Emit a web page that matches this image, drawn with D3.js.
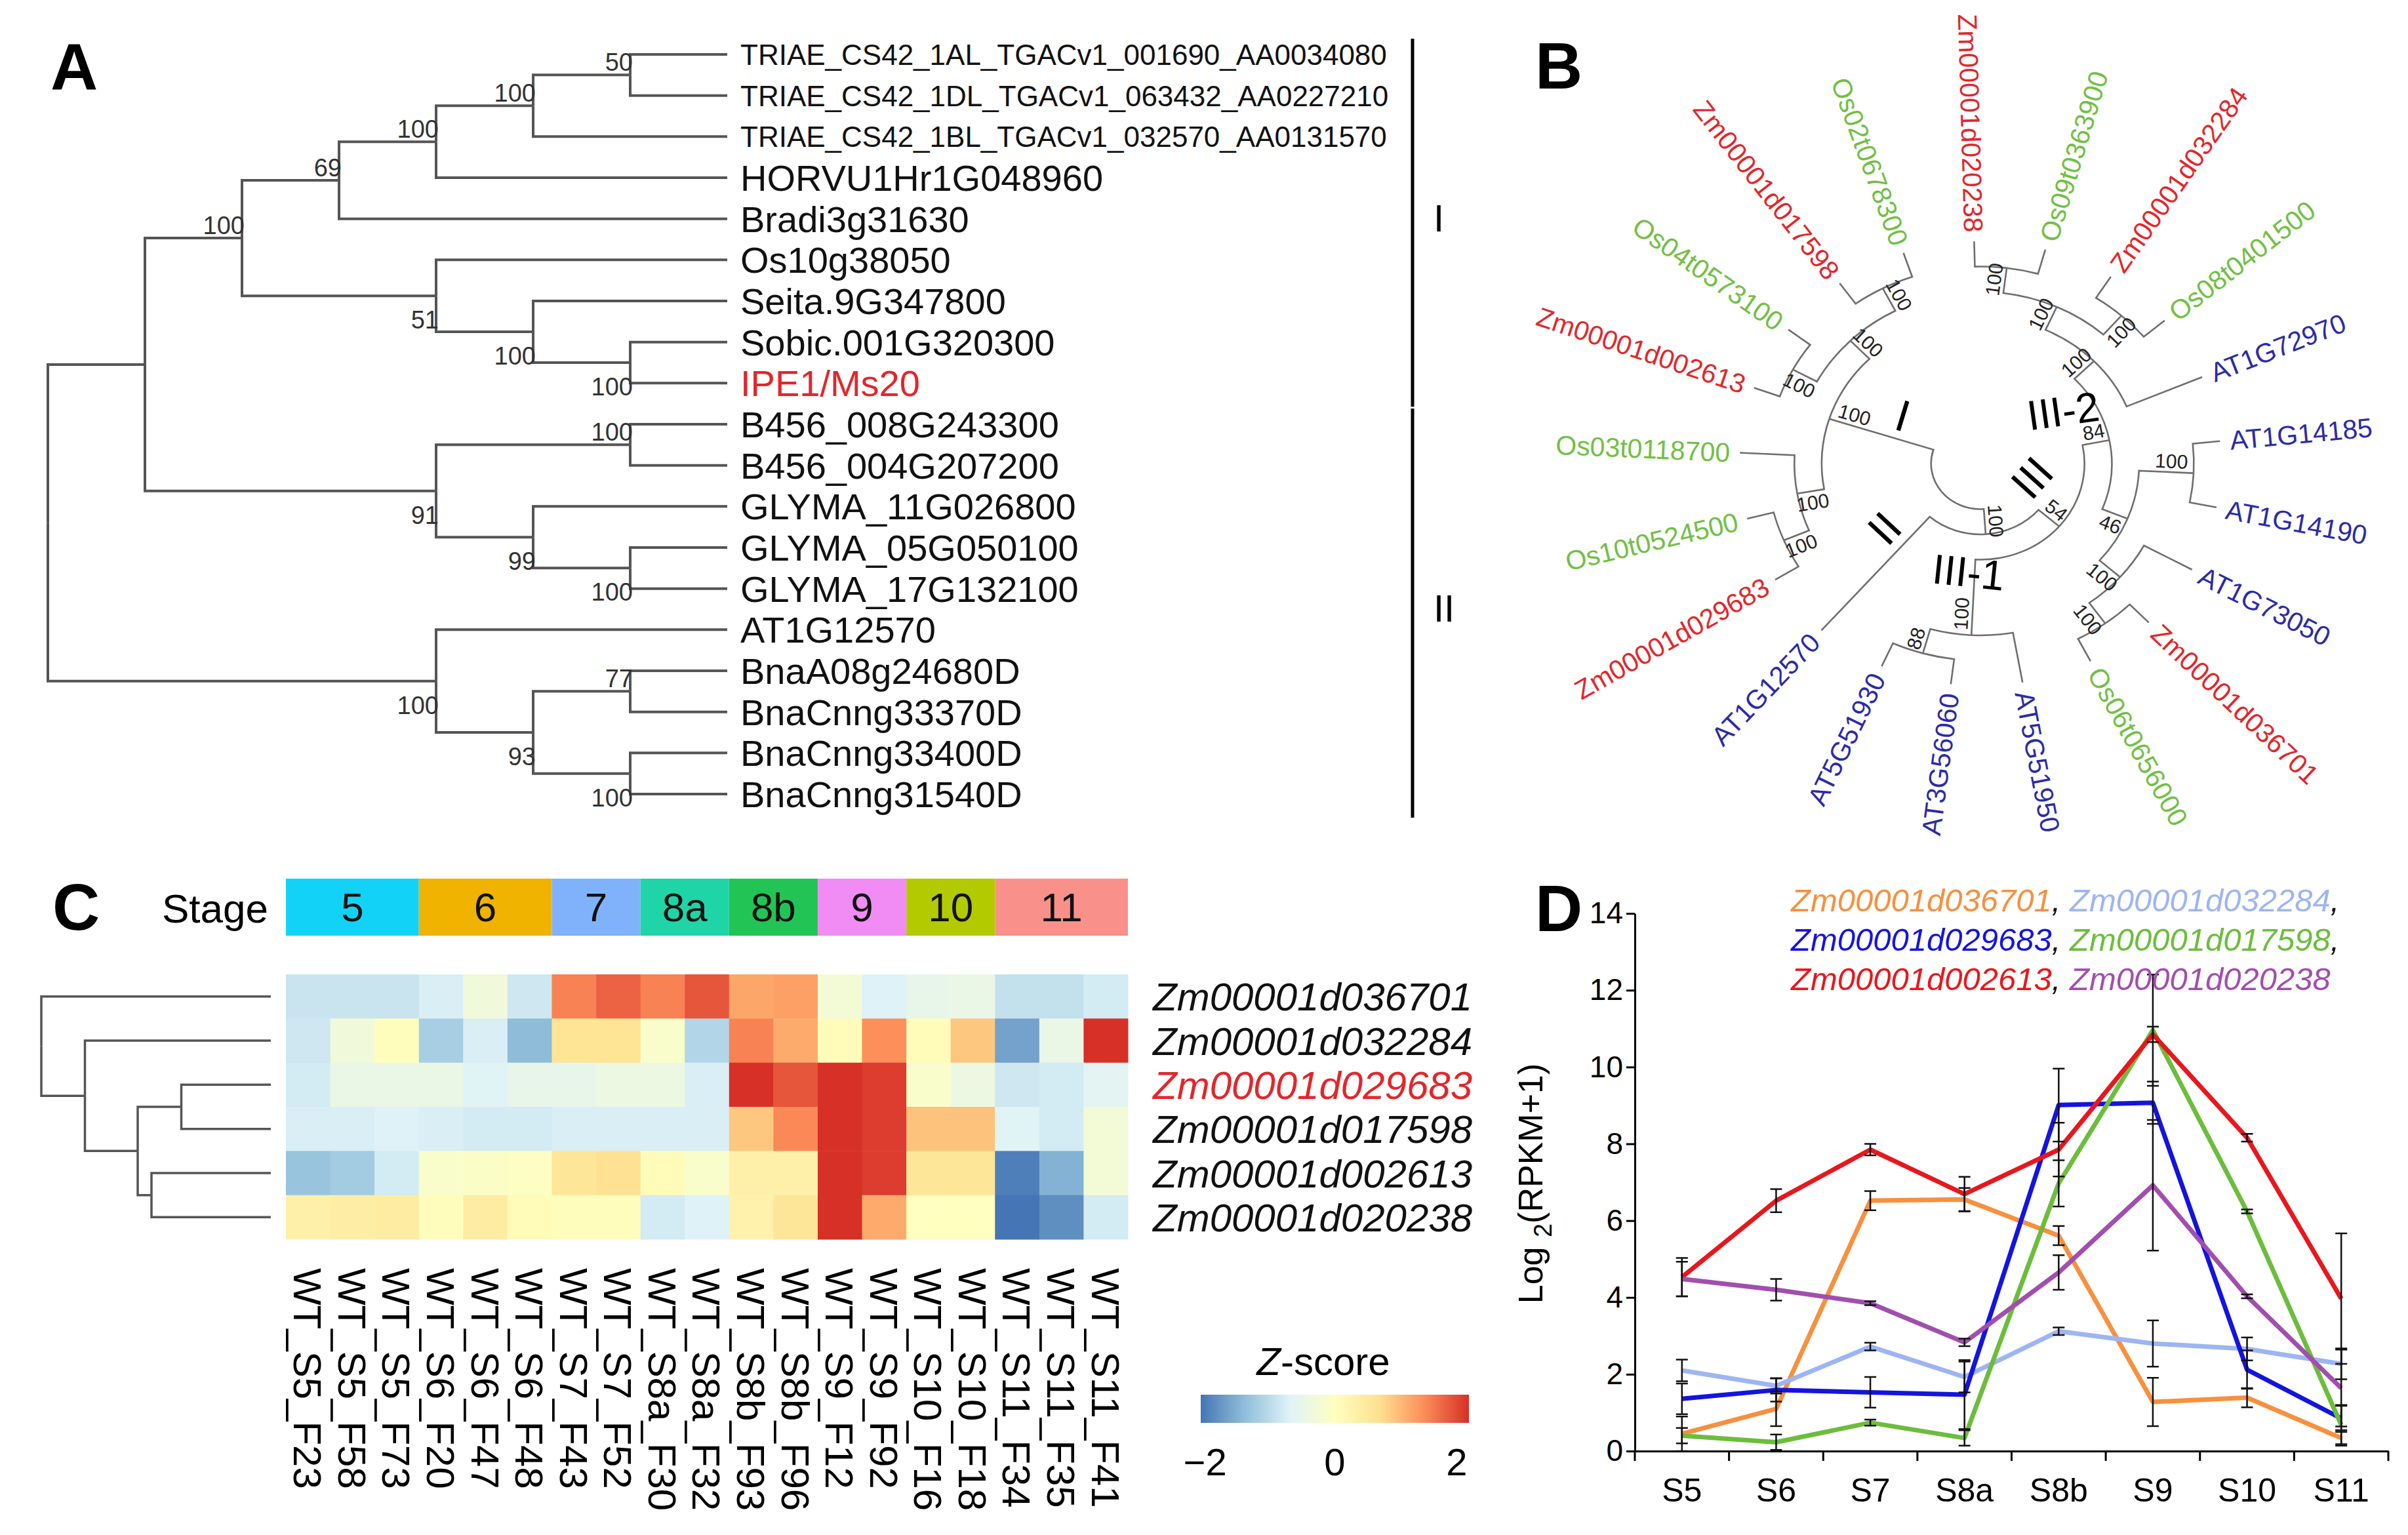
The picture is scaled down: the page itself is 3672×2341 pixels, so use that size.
<!DOCTYPE html>
<html>
<head>
<meta charset="utf-8">
<script src="https://cdn.jsdelivr.net/npm/d3@7"></script>
<style>
body { margin: 0; background: #fff; }
svg { display: block; }
text { font-family: "Liberation Sans", Arial, sans-serif; }
</style>
</head>
<body>
<svg id="fig" width="3672" height="2341"></svg>
<script>
// ---------- data ----------
// A: cladogram, bootstrap values as internal labels
const treeA = "(((((((TRIAE_CS42_1AL_TGACv1_001690_AA0034080,TRIAE_CS42_1DL_TGACv1_063432_AA0227210)50,TRIAE_CS42_1BL_TGACv1_032570_AA0131570)100,HORVU1Hr1G048960)100,Bradi3g31630)69,(Os10g38050,(Seita.9G347800,(Sobic.001G320300,IPE1/Ms20)100)100)51)100,((B456_008G243300,B456_004G207200)100,(GLYMA_11G026800,(GLYMA_05G050100,GLYMA_17G132100)100)99)91),(AT1G12570,((BnaA08g24680D,BnaCnng33370D)77,(BnaCnng33400D,BnaCnng31540D)100)93)100);";
const highlightA = ["IPE1/Ms20"];
const cladeNamesA = ["I", "II"];
const cladeFirstA = ["TRIAE_CS42_1AL_TGACv1_001690_AA0034080", "B456_008G243300"];
const cladeLastA = ["IPE1/Ms20", "BnaCnng31540D"];

// B: circular tree
const treeB = "(((((((Zm00001d020238,Os09t0363900)100,(Zm00001d032284,Os08t0401500)100)100,AT1G72970)100,((AT1G14185,AT1G14190)100,(AT1G73050,(Zm00001d036701,Os06t0656000)100)100)46)84,(AT5G51950,(AT3G56060,AT5G51930)88)100)54,AT1G12570)100,(((Zm00001d029683,Os10t0524500)100,Os03t0118700)100,((Zm00001d002613,Os04t0573100)100,(Zm00001d017598,Os02t0678300)100)100)100);";
const speciesPrefix = ["Zm", "Os", "AT"];
const speciesColor = ["#e3262b", "#72bf45", "#2b2ba8"];
const cladeLabelsB = ["I", "II", "III", "III-1", "III-2"];

// C: heatmap
const stages = ["5", "6", "7", "8a", "8b", "9", "10", "11"];
const stageColors = ["#12d3f7", "#efb300", "#80b2fc", "#1fd5a7", "#22c555", "#f08cf4", "#b4ca00", "#f9918a"];
const samples = ["WT_S5_F23", "WT_S5_F58", "WT_S5_F73", "WT_S6_F20", "WT_S6_F47", "WT_S6_F48", "WT_S7_F43", "WT_S7_F52", "WT_S8a_F30", "WT_S8a_F32", "WT_S8b_F93", "WT_S8b_F96", "WT_S9_F12", "WT_S9_F92", "WT_S10_F16", "WT_S10_F18", "WT_S11_F34", "WT_S11_F35", "WT_S11_F41"];
const genes = ["Zm00001d036701", "Zm00001d032284", "Zm00001d029683", "Zm00001d017598", "Zm00001d002613", "Zm00001d020238"];
const z036701 = [-0.95, -0.95, -0.95, -0.8, -0.35, -0.9, 1.55, 1.8, 1.55, 1.9, 1.25, 1.3, -0.3, -0.75, -0.55, -0.5, -1.0, -1.0, -0.85];
const z032284 = [-0.9, -0.35, 0.05, -1.25, -0.8, -1.5, 0.65, 0.65, -0.15, -1.15, 1.55, 1.2, 0.1, 1.45, 0.1, 0.95, -1.75, -0.5, 2.2];
const z029683 = [-0.85, -0.5, -0.5, -0.5, -0.7, -0.55, -0.55, -0.45, -0.45, -0.8, 2.2, 1.9, 2.2, 2.1, -0.15, -0.45, -0.9, -0.85, -0.65];
const z017598 = [-0.8, -0.8, -0.75, -0.8, -0.85, -0.85, -0.8, -0.8, -0.8, -0.8, 0.95, 1.5, 2.2, 2.1, 1.0, 1.0, -0.7, -0.85, -0.3];
const z002613 = [-1.4, -1.3, -0.85, -0.15, -0.1, -0.05, 0.6, 0.7, 0.1, -0.15, 0.35, 0.35, 2.2, 2.1, 0.6, 0.6, -2.1, -1.6, -0.3];
const z020238 = [0.35, 0.4, 0.45, 0.05, 0.45, 0.1, 0.05, 0.05, -0.85, -0.75, 0.3, 0.6, 2.2, 1.2, 0.0, 0.0, -2.2, -1.95, -0.85];
const zRows = [z036701, z032284, z029683, z017598, z002613, z020238];
// row dendrogram, internal labels = merge height (relative)
const rowTree = "(Zm00001d036701,(Zm00001d032284,((Zm00001d029683,Zm00001d017598)0.39,(Zm00001d002613,Zm00001d020238)0.52)0.58)0.81)1.00";
const heatPalette = ["#4575B4", "#91BFDB", "#E0F3F8", "#FFFFBF", "#FEE090", "#FC8D59", "#D73027"];
const legendTicks = [-2, 0, 2];

// D: expression lines
const stagesD = ["S5", "S6", "S7", "S8a", "S8b", "S9", "S10", "S11"];
const seriesD = ["Zm00001d036701", "Zm00001d032284", "Zm00001d029683", "Zm00001d017598", "Zm00001d002613", "Zm00001d020238"];
const colorsD = ["#f7903f", "#9db5f2", "#1414e0", "#6cbd3c", "#e8171d", "#a14fae"];
const expr036701 = [0.45, 1.1, 6.52, 6.55, 5.61, 1.28, 1.39, 0.34];
const expr032284 = [2.1, 1.7, 2.72, 1.93, 3.12, 2.8, 2.66, 2.27];
const expr029683 = [1.36, 1.59, 1.53, 1.47, 9.01, 9.07, 2.12, 0.85];
const expr017598 = [0.4, 0.23, 0.74, 0.34, 6.97, 10.96, 6.24, 0.68];
const expr002613 = [4.53, 6.52, 7.85, 6.69, 7.85, 10.85, 8.16, 3.97];
const expr020238 = [4.48, 4.2, 3.85, 2.83, 4.65, 6.92, 4.03, 1.64];
const sd036701 = [0.45, 0.45, 0.25, 0.3, 0.25, 0.63, 0.25, 0.2];
const sd032284 = [0.28, 0.2, 0.1, 0.4, 0.1, 0.6, 0.3, 0.4];
const sd029683 = [0.4, 0.3, 0.4, 0.9, 0.95, 0.55, 0.5, 0.35];
const sd017598 = [0.2, 0.2, 0.08, 0.2, 0.6, 1.45, 0.05, 0.5];
const sd002613 = [0.5, 0.3, 0.15, 0.45, 0.7, 0.2, 0.1, 1.7];
const sd020238 = [0.45, 0.28, 0.05, 0.1, 0.45, 1.7, 0.05, 1.0];
const exprD = [expr036701, expr032284, expr029683, expr017598, expr002613, expr020238];
const sdD = [sd036701, sd032284, sd029683, sd017598, sd002613, sd020238];
const yTicksD = [0, 2, 4, 6, 8, 10, 12, 14];

// ---------- helpers ----------
function parseNewick(s) {
    let i = 0;
    function node() {
        const n = {};
        if (s[i] === "(") {
            i++;
            n.children = [];
            n.children.push(node());
            while (s[i] === ",") { i++; n.children.push(node()); }
            i++; // ')'
        }
        let lab = "";
        while (i < s.length && !",();".includes(s[i])) lab += s[i++];
        if (n.children) n.support = lab; else n.name = lab;
        return n;
    }
    return node();
}

const svg = d3.select("#fig");
svg.append("rect").attr("width", 3672).attr("height", 2341).attr("fill", "#fff");

// panel letters
const letterPos = [[77, 137], [2341, 135], [80, 1418], [2341, 1420]];
svg.selectAll("text.letter").data(["A", "B", "C", "D"]).join("text")
    .attr("x", (d, i) => letterPos[i][0]).attr("y", (d, i) => letterPos[i][1])
    .attr("font-size", 100).attr("font-weight", "bold").text(d => d);

// ---------- A ----------
const gA = svg.append("g");
const rootA = d3.hierarchy(parseNewick(treeA));
const leavesA = rootA.leaves();
const yA = d3.scaleLinear().domain([0, leavesA.length - 1]).range([83, 1211]);
const xA = d3.scaleLinear().domain([rootA.height, 0]).range([73, 1109]);
leavesA.forEach((d, i) => d.y = yA(i));
rootA.eachAfter(d => {
    if (d.children) d.y = d3.mean(d.children, c => c.y);
    d.x = xA(d.height);
});

gA.selectAll("path").data(rootA.links()).join("path")
    .attr("d", l => `M${l.source.x},${l.source.y}V${l.target.y}H${l.target.x}`)
    .attr("fill", "none").attr("stroke", "#555").attr("stroke-width", 4);

gA.selectAll("text.leaf").data(leavesA).join("text")
    .attr("class", "leaf")
    .attr("x", 1129).attr("y", d => d.y).attr("dy", "0.36em")
    .attr("font-size", d => d.data.name.startsWith("TRIAE") ? 44 : 56)
    .attr("fill", d => highlightA.includes(d.data.name) ? "#e3262b" : "#111")
    .text(d => d.data.name);

gA.selectAll("text.bs").data(rootA.descendants().filter(d => d.parent && d.data.support)).join("text")
    .attr("class", "bs")
    .attr("x", d => d.x + 4)
    .attr("y", d => d.parent.children.indexOf(d) === 0 ? d.y - 6 : d.y + 50)
    .attr("text-anchor", "end").attr("font-size", 38).attr("fill", "#333")
    .text(d => d.data.support);

cladeNamesA.forEach((name, i) => {
    const top = leavesA.find(d => d.data.name === cladeFirstA[i]).y - 24;
    const bot = leavesA.find(d => d.data.name === cladeLastA[i]).y + 36;
    gA.append("line").attr("x1", 2154).attr("x2", 2154).attr("y1", top).attr("y2", bot)
        .attr("stroke", "#000").attr("stroke-width", 5);
    gA.append("text").attr("x", 2186).attr("y", (top + bot) / 2 - 8).attr("dy", "0.36em")
        .attr("font-size", 58).text(name);
});

// ---------- B ----------
const gB = svg.append("g");
const cB = [3020, 707], sxB = 1.083;
const rootB = d3.hierarchy(parseNewick(treeB));
const leavesB = rootB.leaves();
const angB = d3.scaleLinear().domain([0, leavesB.length]).range([268.5, 628.5]);
const radB = d3.scaleLinear().domain([0, rootB.height]).range([339, 69.5]);
leavesB.forEach((d, i) => d.a = angB(i));
rootB.eachAfter(d => {
    if (d.children) d.a = d3.mean(d.children, c => c.a);
    d.r = radB(d.height);
});
function posB(a, r) {
    const t = a * Math.PI / 180;
    return [cB[0] + sxB * r * Math.cos(t), cB[1] + r * Math.sin(t)];
}
function rotB(a) {
    const t = a * Math.PI / 180;
    const phi = Math.atan2(Math.sin(t), sxB * Math.cos(t)) * 180 / Math.PI;
    return Math.cos(t) >= 0 ? [phi, "start"] : [phi + 180, "end"];
}

gB.selectAll("path").data(rootB.links()).join("path")
    .attr("d", l => {
        const p = l.source, c = l.target;
        const p0 = posB(p.a, p.r), p1 = posB(c.a, p.r), p2 = posB(c.a, c.r);
        return `M${p0}A${sxB * p.r},${p.r} 0 0 ${c.a > p.a ? 1 : 0} ${p1}L${p2}`;
    })
    .attr("fill", "none").attr("stroke", "#6e6e6e").attr("stroke-width", 2.6);

gB.selectAll("text.leaf").data(leavesB).join("text")
    .each(function (d) {
        const [x, y] = posB(d.a, radB(0) + 14);
        const [rot, anchor] = rotB(d.a);
        const k = speciesPrefix.findIndex(p => d.data.name.startsWith(p));
        d3.select(this).attr("x", x).attr("y", y).attr("dy", "0.36em")
            .attr("text-anchor", anchor).attr("transform", `rotate(${rot},${x},${y})`)
            .attr("font-size", 41).attr("fill", speciesColor[k]).text(d.data.name);
    });

gB.selectAll("text.bs").data(rootB.descendants().filter(d => d.parent && d.data.support)).join("text")
    .each(function (d) {
        const p = d.parent;
        const rl = d.r - Math.min((d.r - p.r) / 2, 32);
        const [bx, by] = posB(d.a, rl);
        const t = d.a * Math.PI / 180;
        let tx = -sxB * Math.sin(t), ty = Math.cos(t);
        const len = Math.hypot(tx, ty), side = d.a > p.a ? 1 : -1;
        const x = bx + side * 17 * tx / len, y = by + side * 17 * ty / len;
        const [rot] = rotB(d.a);
        d3.select(this).attr("x", x).attr("y", y).attr("dy", "0.36em")
            .attr("text-anchor", "middle").attr("transform", `rotate(${rot},${x},${y})`)
            .attr("font-size", 30).attr("fill", "#222").text(d.data.support);
    });

// clade labels placed by hand along the branches
const cladePosB = [[2902, 633, 17], [2873, 805, -47], [3098, 728, -48], [3002, 872, 6], [3146, 626, -8]];
gB.selectAll("text.clade").data(cladeLabelsB).join("text")
    .attr("x", (d, i) => cladePosB[i][0]).attr("y", (d, i) => cladePosB[i][1])
    .attr("dy", "0.36em").attr("text-anchor", "middle")
    .attr("transform", (d, i) => `rotate(${cladePosB[i][2]},${cladePosB[i][0]},${cladePosB[i][1]})`)
    .attr("font-size", (d, i) => i < 3 ? 68 : 64).text(d => d);

// ---------- C ----------
const gC = svg.append("g");
const xC = d3.scaleBand().domain(samples).range([436, 1720]);
const yC = d3.scaleBand().domain(genes).range([1486, 1890]);
const colorC = d3.scaleLinear().domain(d3.range(7).map(i => -2.2 + i * 4.4 / 6)).range(heatPalette).clamp(true);
const stageOf = s => s.split("_")[1].slice(1);

stages.forEach((st, i) => {
    const cols = samples.filter(s => stageOf(s) === st);
    const x0 = xC(cols[0]), x1 = xC(cols[cols.length - 1]) + xC.bandwidth();
    gC.append("rect").attr("x", x0).attr("y", 1340).attr("width", x1 - x0).attr("height", 87)
        .attr("fill", stageColors[i]);
    gC.append("text").attr("x", (x0 + x1) / 2).attr("y", 1405).attr("text-anchor", "middle")
        .attr("font-size", 62).attr("fill", "#111").text(st);
});
gC.append("text").attr("x", 409).attr("y", 1407).attr("text-anchor", "end")
    .attr("font-size", 62).text("Stage");

genes.forEach((g, r) => {
    gC.selectAll(null).data(zRows[r]).join("rect")
        .attr("x", (v, c) => xC(samples[c])).attr("y", yC(g))
        .attr("width", xC.bandwidth() + 0.5).attr("height", yC.bandwidth() + 0.5)
        .attr("fill", v => colorC(v));
});

gC.selectAll("text.gene").data(genes).join("text")
    .attr("x", 1758).attr("y", d => yC(d) + yC.bandwidth() / 2).attr("dy", "0.36em")
    .attr("font-size", 60).attr("font-style", "italic")
    .attr("fill", d => d === "Zm00001d029683" ? "#e3262b" : "#111").text(d => d);

gC.selectAll("text.sample").data(samples).join("text")
    .each(function (d) {
        const x = xC(d) + xC.bandwidth() / 2, y = 1934;
        d3.select(this).attr("x", x).attr("y", y).attr("dy", "0.36em")
            .attr("transform", `rotate(90,${x},${y})`).attr("font-size", 60).text(d);
    });

// row dendrogram
const rootC = d3.hierarchy(parseNewick(rowTree));
const xDen = d3.scaleLinear().domain([0, 1]).range([413, 63]);
rootC.eachAfter(d => {
    if (d.children) {
        d.y = d3.mean(d.children, c => c.y);
        d.x = xDen(+d.data.support);
    } else {
        d.y = yC(d.data.name) + yC.bandwidth() / 2;
        d.x = xDen(0);
    }
});
gC.selectAll("path").data(rootC.links()).join("path")
    .attr("d", l => `M${l.source.x},${l.source.y}V${l.target.y}H${l.target.x}`)
    .attr("fill", "none").attr("stroke", "#555").attr("stroke-width", 3.5);

// legend
const legX = d3.scaleLinear().domain([-2.2, 2.2]).range([1831, 2240]);
const grad = svg.append("defs").append("linearGradient").attr("id", "zgrad");
heatPalette.forEach((c, i) => grad.append("stop").attr("offset", i / 6).attr("stop-color", c));
gC.append("rect").attr("x", legX(-2.2)).attr("y", 2127).attr("width", legX(2.2) - legX(-2.2))
    .attr("height", 43).attr("fill", "url(#zgrad)");
const zt = gC.append("text").attr("x", 2018).attr("y", 2097).attr("text-anchor", "middle").attr("font-size", 60);
zt.append("tspan").attr("font-style", "italic").text("Z");
zt.append("tspan").text("-score");
gC.selectAll("text.lt").data(legendTicks).join("text")
    .attr("x", d => legX(d) - (d < 0 ? 12 : 0)).attr("y", 2250).attr("text-anchor", "middle")
    .attr("font-size", 58).text(d => d < 0 ? "\u2212" + Math.abs(d) : d);

// ---------- D ----------
const gD = svg.append("g");
const xD = d3.scaleBand().domain(stagesD).range([2493, 3642]);
const yD = d3.scaleLinear().domain([0, 14]).range([2213, 1393]);
const cx = s => xD(s) + xD.bandwidth() / 2;

const yAxis = gD.append("g").attr("transform", "translate(2493,0)")
    .call(d3.axisLeft(yD).tickValues(yTicksD).tickSize(13).tickSizeOuter(0).tickPadding(5));
const xAxis = gD.append("g").attr("transform", "translate(0,2213)")
    .call(d3.axisBottom(xD).tickSize(0).tickSizeOuter(0).tickPadding(41));
[yAxis, xAxis].forEach(ax => {
    ax.selectAll("path,line").attr("stroke", "#000").attr("stroke-width", 3);
    ax.selectAll("text").attr("font-size", ax === yAxis ? 46 : 50).attr("fill", "#000")
        .attr("font-family", '"Liberation Sans", Arial, sans-serif');
});
gD.selectAll("line.edge").data(stagesD.map(s => xD(s)).concat([xD.range()[1]])).join("line")
    .attr("x1", d => d).attr("x2", d => d).attr("y1", 2213).attr("y2", 2228)
    .attr("stroke", "#000").attr("stroke-width", 3);

const lineD = d3.line().x((v, i) => cx(stagesD[i])).y(v => yD(v));
gD.selectAll("path.series").data(exprD).join("path")
    .attr("d", v => lineD(v)).attr("fill", "none")
    .attr("stroke", (v, i) => colorsD[i]).attr("stroke-width", 7).attr("stroke-linejoin", "round");

exprD.forEach((vals, k) => {
    vals.forEach((v, i) => {
        const x = cx(stagesD[i]), lo = yD(Math.max(0, v - sdD[k][i])), hi = yD(v + sdD[k][i]);
        gD.append("path").attr("d", `M${x},${lo}V${hi}M${x - 9},${lo}H${x + 9}M${x - 9},${hi}H${x + 9}`)
            .attr("stroke", "#111").attr("stroke-width", 2.5).attr("fill", "none");
    });
});

const yt = gD.append("text").attr("transform", "translate(2352,1805) rotate(-90)")
    .attr("text-anchor", "middle").attr("font-size", 52);
yt.append("tspan").text("Log ");
yt.append("tspan").attr("font-size", 38).attr("dy", 14).text("2");
yt.append("tspan").attr("dy", -14).text("(RPKM+1)");

[[0, 1], [2, 3], [4, 5]].forEach((pair, li) => {
    const t = gD.append("text").attr("x", 2731).attr("y", 1390 + li * 60)
        .attr("font-size", 49).attr("font-style", "italic");
    pair.forEach((k, j) => {
        t.append("tspan").attr("fill", colorsD[k]).text(seriesD[k]);
        if (j === 0 || li < 2) t.append("tspan").attr("fill", "#111").text(j === 0 ? ", " : ",");
    });
});
</script>
</body>
</html>
